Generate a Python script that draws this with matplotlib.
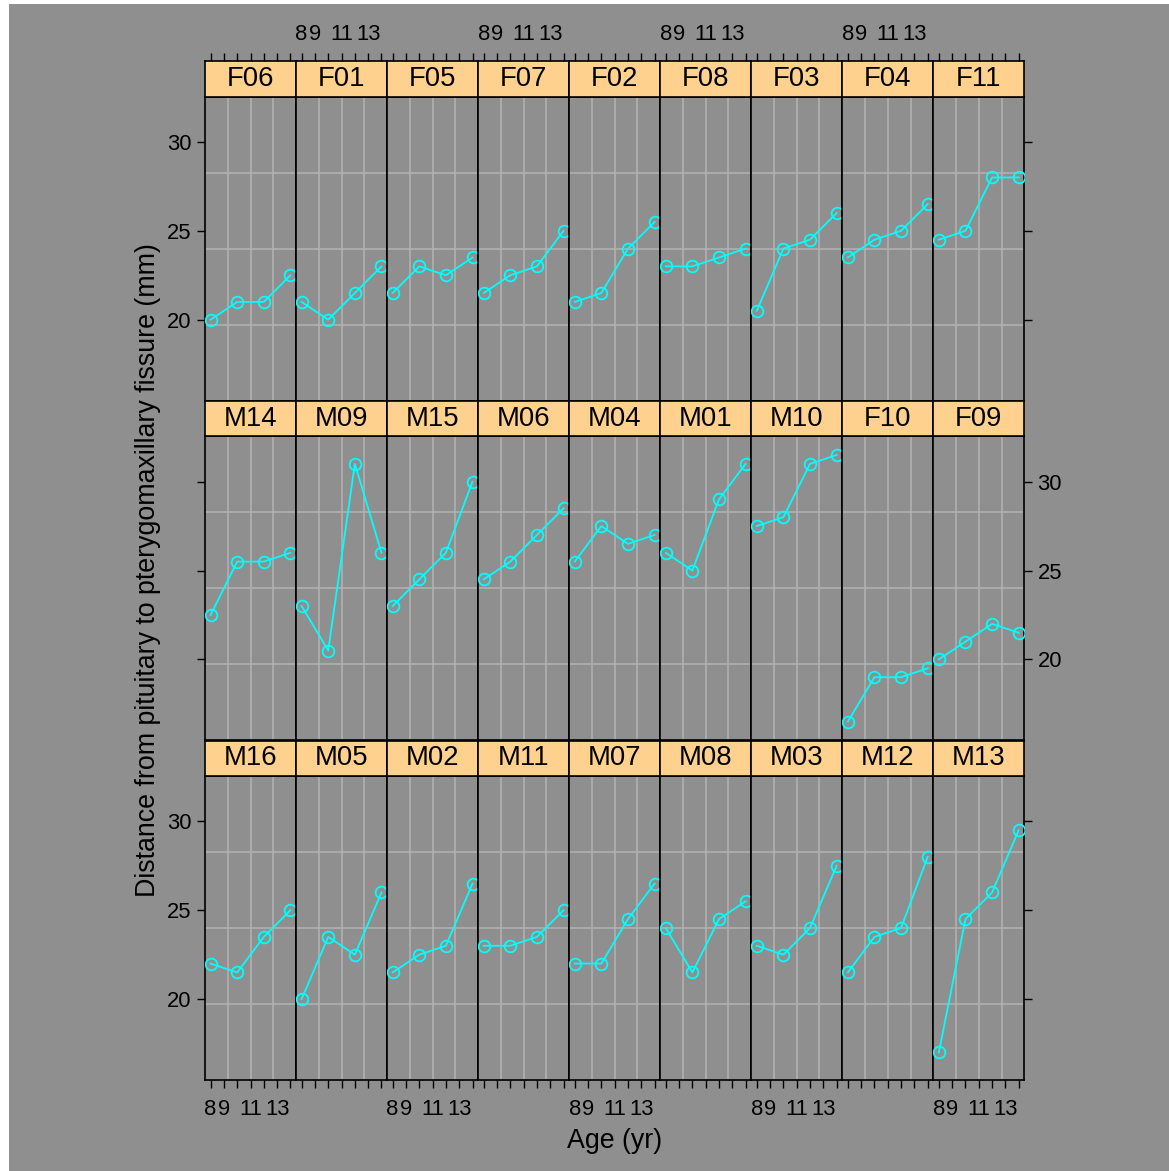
import matplotlib
matplotlib.use('Agg')
import matplotlib.pyplot as plt
from matplotlib.patches import Rectangle

plt.rcParams['font.family'] = ['Liberation Sans', 'DejaVu Sans']

# Orthodontic growth measurements: distance (mm) at each age for every subject
ages = [8, 10, 12, 14]

M01 = [26, 25, 29, 31]
M02 = [21.5, 22.5, 23, 26.5]
M03 = [23, 22.5, 24, 27.5]
M04 = [25.5, 27.5, 26.5, 27]
M05 = [20, 23.5, 22.5, 26]
M06 = [24.5, 25.5, 27, 28.5]
M07 = [22, 22, 24.5, 26.5]
M08 = [24, 21.5, 24.5, 25.5]
M09 = [23, 20.5, 31, 26]
M10 = [27.5, 28, 31, 31.5]
M11 = [23, 23, 23.5, 25]
M12 = [21.5, 23.5, 24, 28]
M13 = [17, 24.5, 26, 29.5]
M14 = [22.5, 25.5, 25.5, 26]
M15 = [23, 24.5, 26, 30]
M16 = [22, 21.5, 23.5, 25]
F01 = [21, 20, 21.5, 23]
F02 = [21, 21.5, 24, 25.5]
F03 = [20.5, 24, 24.5, 26]
F04 = [23.5, 24.5, 25, 26.5]
F05 = [21.5, 23, 22.5, 23.5]
F06 = [20, 21, 21, 22.5]
F07 = [21.5, 22.5, 23, 25]
F08 = [23, 23, 23.5, 24]
F09 = [20, 21, 22, 21.5]
F10 = [16.5, 19, 19, 19.5]
F11 = [24.5, 25, 28, 28]

subjects = {
    'M01': M01, 'M02': M02, 'M03': M03, 'M04': M04, 'M05': M05, 'M06': M06,
    'M07': M07, 'M08': M08, 'M09': M09, 'M10': M10, 'M11': M11, 'M12': M12,
    'M13': M13, 'M14': M14, 'M15': M15, 'M16': M16,
    'F01': F01, 'F02': F02, 'F03': F03, 'F04': F04, 'F05': F05, 'F06': F06,
    'F07': F07, 'F08': F08, 'F09': F09, 'F10': F10, 'F11': F11,
}

# panel arrangement, top row first
panel_rows = [
    ['F06', 'F01', 'F05', 'F07', 'F02', 'F08', 'F03', 'F04', 'F11'],
    ['M14', 'M09', 'M15', 'M06', 'M04', 'M01', 'M10', 'F10', 'F09'],
    ['M16', 'M05', 'M02', 'M11', 'M07', 'M08', 'M03', 'M12', 'M13'],
]

x_ticks = [8, 9, 10, 11, 12, 13, 14]
x_tick_labels = ['8', '9', '', '11', '', '13', '']
y_ticks = [20, 25, 30]
y_tick_labels = ['20', '25', '30']

x_label = 'Age (yr)'
y_label = 'Distance from pituitary to pterygomaxillary fissure (mm)'

# padded limits (7% on each side of the data range)
xlim = (8 - 0.42, 14 + 0.42)
ylim = (16.5 - 1.05, 31.5 + 1.05)

W, H, DPI = 1169, 1171, 100
fig = plt.figure(figsize=(W / DPI, H / DPI), dpi=DPI, facecolor='white')

BG = '#8f8f8f'
GRID = '#b3b3b3'
STRIP = '#ffd18f'
LINE = '#00ffff'

fig.patches.append(Rectangle((9 / W, 0), (W - 9) / W, (H - 4) / H,
                             transform=fig.transFigure, facecolor=BG,
                             edgecolor='none', zorder=-10))


def px_axes(x, y, w, h):
    return fig.add_axes([x / W, 1 - (y + h) / H, w / W, h / H])


left0 = 205.0
col_w = (1024.3 - 205.0) / 9
row_tops = [61.3, 401.0, 740.7]
strip_h = 35.3
panel_h = 304.0

TICK_FS = 15.8
STRIP_FS = 19.8
LABEL_FS = 19.3
tick_kw = dict(direction='out', length=5.5, width=1.0, colors='black',
               labelsize=TICK_FS)

for r, row in enumerate(panel_rows):
    for c, name in enumerate(row):
        x0 = left0 + c * col_w
        ax = px_axes(x0, row_tops[r] + strip_h, col_w, panel_h)
        ax.set_facecolor(BG)
        ax.set_xlim(*xlim)
        ax.set_ylim(*ylim)
        for f in (0.25, 0.5, 0.75):
            ax.plot([f, f], [0, 1], transform=ax.transAxes, color=GRID,
                    lw=1.1, zorder=1)
            ax.plot([0, 1], [f, f], transform=ax.transAxes, color=GRID,
                    lw=1.1, zorder=1)
        ax.plot(ages, subjects[name], color=LINE, lw=1.3, marker='o',
                mfc='none', mec=LINE, ms=8.4, mew=1.3, zorder=3)
        for s in ax.spines.values():
            s.set_linewidth(1.2)
            s.set_color('black')

        ax.set_xticks(x_ticks)
        ax.set_xticklabels(x_tick_labels)
        ax.set_yticks(y_ticks)
        ax.set_yticklabels(y_tick_labels)
        ax.tick_params(axis='both', **tick_kw)
        ax.tick_params(axis='x', bottom=(r == 2), top=False,
                       labelbottom=(r == 2 and c % 2 == 0), labeltop=False,
                       pad=8)
        ax.tick_params(axis='y', left=(c == 0), right=(c == 8),
                       labelleft=(c == 0 and r != 1),
                       labelright=(c == 8 and r == 1), pad=4)

        # strip with the subject name
        sax = px_axes(x0, row_tops[r], col_w, strip_h)
        sax.set_facecolor(STRIP)
        sax.set_xlim(*xlim)
        sax.set_ylim(0, 1)
        sax.set_yticks([])
        for s in sax.spines.values():
            s.set_linewidth(1.2)
            s.set_color('black')
        sax.text(0.5, 0.5, name, transform=sax.transAxes, ha='center',
                 va='center', fontsize=STRIP_FS, color='black')
        if r == 0:
            sax.set_xticks(x_ticks)
            sax.set_xticklabels(x_tick_labels)
            sax.tick_params(axis='x', **tick_kw)
            sax.tick_params(axis='x', bottom=False, labelbottom=False,
                            top=True, labeltop=(c % 2 == 1), pad=6)
        else:
            sax.set_xticks([])

fig.text(614.5 / W, 1 - 1141 / H, x_label, ha='center', va='center',
         fontsize=LABEL_FS)
fig.text(148 / W, 1 - 570.5 / H, y_label, ha='center', va='center',
         rotation=90, fontsize=LABEL_FS)

fig.savefig('out.png', dpi=DPI, facecolor='white')
